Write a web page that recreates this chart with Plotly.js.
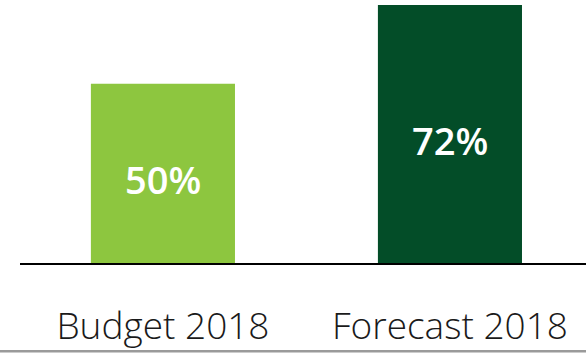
<!DOCTYPE html>
<html>
<head>
<meta charset="utf-8">
<script src="https://cdn.plot.ly/plotly-3.0.1.min.js"></script>
<style>
  html, body { margin: 0; padding: 0; background: #ffffff; }
  #chart { width: 586px; height: 353px; }
</style>
</head>
<body>
<div id="chart"></div>
<script>
// Budget vs forecast share for 2018
const categories = ["Budget 2018", "Forecast 2018"];
const values = [50, 72];
const labels = ["50%", "72%"];
const barColors = ["#8dc63f", "#034d28"];

const trace = {
  type: "bar",
  x: categories,
  y: values,
  width: 0.502,
  marker: { color: barColors, line: { width: 0 } },
  hoverinfo: "skip"
};

// Value labels placed inside each bar, slightly below its middle
const annotations = categories.map((c, i) => ({
  x: c,
  y: values[i] / 2,
  xref: "x",
  yref: "y",
  text: labels[i],
  showarrow: false,
  yshift: -6,
  font: { family: "Open Sans, sans-serif", size: 38, color: "#ffffff", weight: 600 }
}));

const layout = {
  width: 586,
  height: 353,
  margin: { l: 20, r: 0, t: 0, b: 90 },
  paper_bgcolor: "#ffffff",
  plot_bgcolor: "#ffffff",
  showlegend: false,
  xaxis: {
    type: "category",
    range: [-0.498, 1.474],
    showline: true,
    linecolor: "#000000",
    linewidth: 2,
    ticks: "",
    showgrid: false,
    zeroline: false,
    ticklabelstandoff: 30,
    tickfont: { family: "Open Sans, sans-serif", size: 37, color: "#1a1a1a", weight: 300 }
  },
  yaxis: {
    range: [0, 73.4],
    visible: false,
    showgrid: false,
    zeroline: false
  },
  annotations: annotations,
  shapes: [
    {
      type: "line",
      xref: "paper",
      yref: "paper",
      x0: -0.05, x1: 1.05,
      y0: -0.336, y1: -0.336,
      line: { color: "#9a9a9a", width: 2.5 }
    }
  ]
};

Plotly.newPlot("chart", [trace], layout, { displayModeBar: false, staticPlot: true });
</script>
</body>
</html>
